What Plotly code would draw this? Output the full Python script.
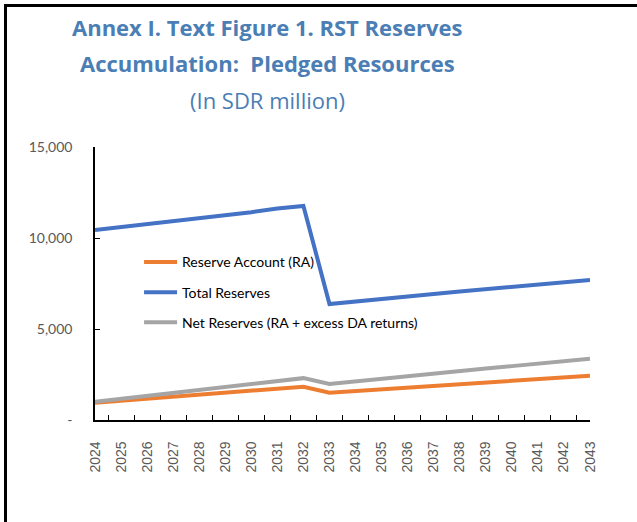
from plotly import graph_objects as go

#data
years = [str(y) for y in range(2024, 2044)]
reserve_account = [950, 1060, 1170, 1280, 1390, 1500, 1610, 1720, 1830,
                   1500, 1590, 1680, 1770, 1860, 1950, 2040, 2140, 2230, 2320, 2430]
total_reserves = [10440, 10600, 10770, 10930, 11100, 11260, 11420, 11620, 11760,
                  6370, 6520, 6640, 6780, 6920, 7060, 7180, 7300, 7440, 7560, 7690]
net_reserves = [1000, 1160, 1320, 1480, 1640, 1800, 1960, 2120, 2300,
                1980, 2130, 2270, 2410, 2550, 2700, 2830, 2960, 3100, 3230, 3370]
ytick_vals = [0, 5000, 10000, 15000]
ytick_text = ['-', '5,000', '10,000', '15,000']

title_lines = ['Annex I. Text Figure 1. RST Reserves', 'Accumulation:  Pledged Resources']
subtitle = '(In SDR million)'

W, H = 637, 522
L, R, T, B = 95, 47, 147, 102
ph = H - T - B

def py(y_px):
    #pixel row from the top -> paper y
    return (H - B - y_px) / ph

def px(x_px):
    return (x_px - L) / (W - L - R)

fig = go.Figure()
series = [('Reserve Account (RA)', reserve_account, '#ED7D31'),
          ('Total Reserves', total_reserves, '#4472C4'),
          ('Net Reserves (RA + excess DA returns)', net_reserves, '#A5A5A5')]
for name, vals, color in series:
    fig.add_trace(go.Scatter(x=years, y=vals, name=name, mode='lines',
                             legendgroup=name, line=dict(color=color, width=4)))

#title block
title_color = '#4A7EB4'
for txt, ypos in zip(title_lines, [27, 63]):
    fig.add_annotation(text=f'<b>{txt}</b>', xref='paper', yref='paper', x=px(267), y=py(ypos),
                       yanchor='middle', xanchor='center', showarrow=False,
                       font=dict(family='Open Sans', size=22, color=title_color))
fig.add_annotation(text=subtitle, xref='paper', yref='paper', x=px(267), y=py(100),
                   yanchor='middle', xanchor='center', showarrow=False,
                   font=dict(family='Open Sans', size=22, color=title_color))

#frame line at left
fig.add_shape(type='rect', xref='paper', yref='paper', x0=px(4), x1=px(7), y0=py(H), y1=py(4),
              fillcolor='black', line=dict(width=0))

fig.update_layout(
    width=W, height=H,
    margin=dict(l=L, r=R, t=T, b=B),
    plot_bgcolor='white', paper_bgcolor='white',
    showlegend=True,
    legend=dict(x=0.089, y=0.636, xanchor='left', yanchor='top', traceorder='grouped',
                tracegroupgap=9, itemwidth=33, bgcolor='rgba(0,0,0,0)',
                font=dict(family='Lato', size=14, color='black')),
    xaxis=dict(type='category', showline=True, linecolor='black', linewidth=1.5,
               ticks='inside', tickson='boundaries', ticklen=5, tickcolor='black',
               tickangle=-90, ticklabelstandoff=14, showgrid=False,
               tickfont=dict(family='Liberation Sans', size=14, color='#595959')),
    yaxis=dict(range=[0, 15000], tickvals=ytick_vals, ticktext=ytick_text,
               showline=True, linecolor='black', linewidth=1.5, ticks='inside',
               ticklen=5, tickcolor='black', showgrid=False, zeroline=False,
               ticklabelstandoff=18,
               tickfont=dict(family='Lato', size=14, color='#595959')),
)

#drop the default page margin so the figure sits at the window corner,
#and lay the top frame line over the page
post = (
    "document.body.style.margin='0px';"
    "var bar=document.createElement('div');"
    "bar.style.cssText='position:absolute;left:4px;top:4px;width:633px;height:3px;"
    "background:black;pointer-events:none;z-index:10';"
    "document.body.appendChild(bar);"
)
fig.write_html("out.html", config={'displayModeBar': False}, post_script=post)
